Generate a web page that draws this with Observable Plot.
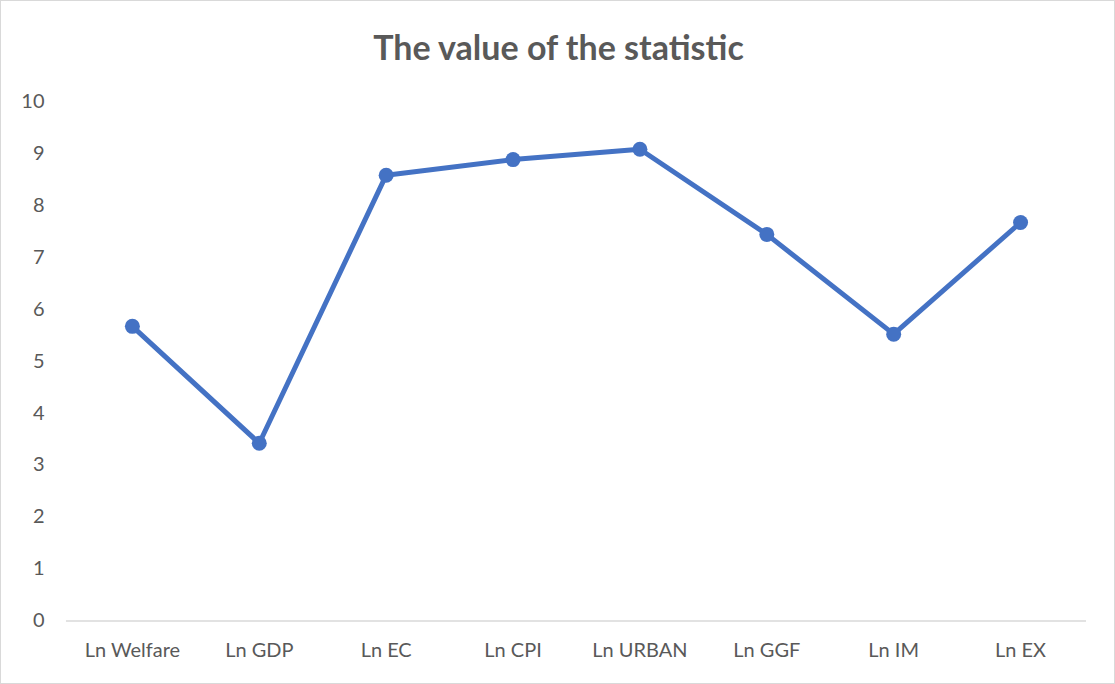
<!DOCTYPE html>
<html>
<head>
<meta charset="utf-8">
<script src="https://cdn.jsdelivr.net/npm/d3@7"></script>
<script src="https://cdn.jsdelivr.net/npm/@observablehq/plot@0.6"></script>
<style>
  html, body { margin: 0; padding: 0; background: #fff; }
  #wrap { position: relative; width: 1115px; height: 684px; box-sizing: border-box; border: 1px solid #d9d9d9; overflow: hidden; }
  #title { position: absolute; left: 0; width: 1115px; top: 25px; text-align: center; font-family: Lato, "Open Sans", sans-serif; font-weight: bold; font-size: 34px; color: #595959; line-height: 42px; }
  #chart { position: absolute; left: -1px; top: -1px; }
</style>
</head>
<body>
<div id="wrap">
  <div id="title">The value of the statistic</div>
  <div id="chart"></div>
</div>
<script>
const categories = ["Ln Welfare", "Ln GDP", "Ln EC", "Ln CPI", "Ln URBAN", "Ln GGF", "Ln IM", "Ln EX"];
const values = [5.67, 3.42, 8.58, 8.88, 9.08, 7.44, 5.52, 7.67];
const yTicks = [0, 1, 2, 3, 4, 5, 6, 7, 8, 9, 10];

const data = categories.map((c, i) => ({category: c, value: values[i]}));

const plot = Plot.plot({
  width: 1115,
  height: 684,
  marginTop: 101,
  marginBottom: 63,
  marginLeft: 66,
  marginRight: 28,
  style: {fontFamily: "Lato, 'Open Sans', sans-serif", fontSize: "20px", color: "#595959", background: "transparent"},
  x: {type: "point", domain: categories, padding: 0.5, label: null},
  y: {domain: [0, 10], label: null},
  marks: [
    Plot.ruleY([0], {stroke: "#d9d9d9", strokeWidth: 1.5}),
    Plot.axisY({ticks: yTicks, tickSize: 0, tickPadding: 22, fontSize: 20, fill: "#595959", label: null}),
    Plot.axisX({tickSize: 0, tickPadding: 22, fontSize: 20, fill: "#595959", label: null}),
    Plot.line(data, {x: "category", y: "value", stroke: "#4472C4", strokeWidth: 5, strokeLinejoin: "round", strokeLinecap: "round"}),
    Plot.dot(data, {x: "category", y: "value", r: 7.5, fill: "#4472C4", stroke: "none"})
  ]
});
document.getElementById("chart").appendChild(plot);
</script>
</body>
</html>
